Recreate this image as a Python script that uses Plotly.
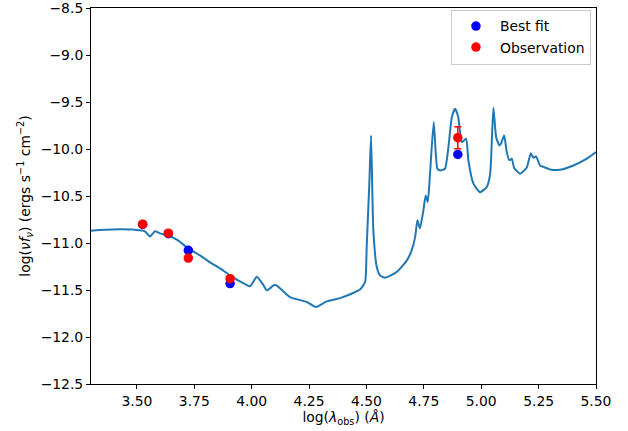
import plotly.graph_objects as go

# Model SED curve (log wavelength, log nuFnu)
model_x = [3.300, 3.361, 3.426, 3.492, 3.535, 3.557, 3.579, 3.601, 3.636, 3.679, 3.723, 3.775,
           3.819, 3.862, 3.906, 3.949, 3.993, 4.022, 4.049, 4.066, 4.102, 4.167, 4.240, 4.280,
           4.327, 4.385, 4.442, 4.472, 4.494, 4.501, 4.513, 4.520, 4.530, 4.545, 4.559, 4.581, 4.632,
           4.676, 4.697, 4.712, 4.722, 4.733, 4.748, 4.758, 4.767, 4.777, 4.793, 4.809, 4.821,
           4.842, 4.857, 4.872, 4.886, 4.900, 4.915, 4.934, 4.944, 4.966, 4.995, 5.024, 5.039,
           5.053, 5.065, 5.079, 5.086, 5.100, 5.111, 5.123, 5.133, 5.143, 5.152, 5.169, 5.198,
           5.216, 5.227, 5.239, 5.256, 5.274, 5.300, 5.343, 5.402, 5.460, 5.500]
model_y = [-10.871, -10.860, -10.855, -10.860, -10.876, -10.930, -10.876, -10.898, -10.919, -10.972,
           -11.057, -11.132, -11.206, -11.270, -11.344, -11.408, -11.460, -11.360, -11.440, -11.504,
           -11.445, -11.575, -11.628, -11.681, -11.621, -11.586, -11.532, -11.496, -11.415, -11.043,
           -10.334, -9.856, -10.866, -11.256, -11.344, -11.369, -11.309, -11.185, -11.078, -10.937, -10.759,
           -10.844, -10.653, -10.494, -10.565, -10.260, -9.714, -10.210, -10.228, -10.210, -9.980,
           -9.661, -9.572, -9.661, -9.927, -9.891, -10.121, -10.369, -10.459, -10.405, -10.263,
           -9.561, -9.874, -9.962, -9.944, -9.856, -10.033, -10.121, -10.103, -10.199, -10.228,
           -10.263, -10.199, -10.044, -10.093, -10.079, -10.175, -10.193, -10.217, -10.220, -10.175,
           -10.103, -10.033]

# Photometric points
phot_x = [3.525, 3.637, 3.724, 3.906, 4.898]
bestfit_y = [-10.802, -10.901, -11.078, -11.432, -10.058]
obs_y = [-10.800, -10.896, -11.160, -11.379, -9.880]
obs_err = [0.02, 0.02, 0.02, 0.02, 0.117]

x_ticks = [3.50, 3.75, 4.00, 4.25, 4.50, 4.75, 5.00, 5.25, 5.50]
y_ticks = [-12.5, -12.0, -11.5, -11.0, -10.5, -10.0, -9.5, -9.0, -8.5]

FONT = "DejaVu Sans"
FS = 13.9

fig = go.Figure()
fig.add_trace(go.Scatter(x=model_x, y=model_y, mode="lines",
                         line=dict(color="#1f77b4", width=2, shape="spline", smoothing=0.5),
                         showlegend=False, hoverinfo="skip"))
fig.add_trace(go.Scatter(x=phot_x, y=bestfit_y, mode="markers", name="Best fit",
                         marker=dict(color="blue", size=9.5)))
fig.add_trace(go.Scatter(x=phot_x, y=obs_y, mode="markers", name="Observation",
                         marker=dict(color="red", size=9.5),
                         error_y=dict(type="data", array=obs_err, color="red",
                                      thickness=1.5, width=3.5)))

fig.update_layout(
    width=628, height=431,
    margin=dict(l=91, r=32, t=8, b=47, autoexpand=False),
    paper_bgcolor="white", plot_bgcolor="white",
    font=dict(family=FONT, size=FS, color="black"),
    legend=dict(x=0.99, xanchor="right", y=0.996, yanchor="top",
                bordercolor="#cccccc", borderwidth=1, bgcolor="rgba(255,255,255,0.8)",
                font=dict(family=FONT, size=FS), itemwidth=38),
)
fig.update_xaxes(
    range=[3.30, 5.50], showgrid=False, zeroline=False, automargin=False,
    showline=True, linecolor="black", linewidth=1, mirror=True,
    ticks="outside", ticklen=4, tickwidth=1, tickcolor="black",
    ticklabeloverflow="allow",
    tickvals=x_ticks, ticktext=[f"{v:.2f}" for v in x_ticks],
    title=dict(text="log(<i>λ</i><sub>obs</sub>) (<i>Å</i>)", standoff=2,
               font=dict(family=FONT, size=FS)),
)
fig.update_yaxes(
    range=[-12.5, -8.5], showgrid=False, zeroline=False, automargin=False,
    showline=True, linecolor="black", linewidth=1, mirror=True,
    ticks="outside", ticklen=4, tickwidth=1, tickcolor="black",
    ticklabeloverflow="allow",
    tickvals=y_ticks, ticktext=[f"{v:.1f}".replace("-", "\u2212") for v in y_ticks],
    title=dict(text="log(<i>νf</i><sub><i>ν</i></sub>) (ergs s<sup>\u22121</sup> cm<sup>\u22122</sup>)",
               standoff=6, font=dict(family=FONT, size=FS)),
)

fig.write_html("out.html", config={"displayModeBar": False},
               post_script="document.body.style.margin='0';document.body.style.padding='0';")
